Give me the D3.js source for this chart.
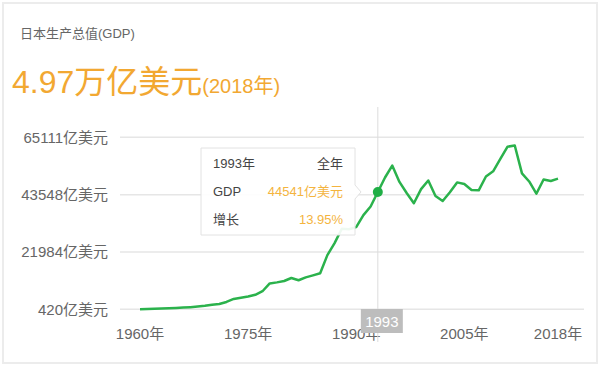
<!DOCTYPE html>
<html>
<head>
<meta charset="utf-8">
<script src="https://cdn.jsdelivr.net/npm/d3@7"></script>
<style>
  body { margin: 0; background: #fff; }
  svg { font-family: "Liberation Sans", Arial, "Noto Sans CJK SC", sans-serif; }
</style>
</head>
<body>
<div id="chart"></div>
<script>
// Japan GDP, 亿美元
var years = d3.range(1960, 2019);
var gdp = [443, 535, 607, 695, 817, 909, 1056, 1237, 1466, 1722,
    2126, 2402, 3180, 4323, 4792, 5215, 5862, 7214, 10136, 10550,
    11054, 12189, 11340, 12433, 13184, 13989, 20789, 25328, 30717, 30549,
    31328, 35840, 39088, 44541, 49988, 54491, 48331, 44147, 40325, 45621,
    48875, 43039, 41151, 44457, 48151, 47554, 45304, 45153, 50379, 52314,
    57001, 61575, 62032, 51557, 48504, 43895, 49225, 48669, 49548];
var yTicks = [420, 21984, 43548, 65111];
var xTicks = [1960, 1975, 1990, 2005, 2018];
var focusYear = 1993;
var focusGrowth = "13.95%";

var width = 600, height = 367;
var svg = d3.select("#chart").append("svg")
    .attr("width", width)
    .attr("height", height);

// card border
svg.append("rect")
    .attr("x", 3).attr("y", 3)
    .attr("width", 594).attr("height", 360)
    .attr("fill", "#fff")
    .attr("stroke", "#ececec")
    .attr("stroke-width", 2);

// headline
svg.append("text")
    .attr("x", 20).attr("y", 38)
    .attr("font-size", 13)
    .attr("fill", "#666")
    .text("日本生产总值(GDP)");

var head = svg.append("text")
    .attr("x", 12).attr("y", 93)
    .attr("fill", "#f2a832");
head.append("tspan").attr("font-size", 32).text("4.97万亿美元");
head.append("tspan").attr("font-size", 20).text("(2018年)");

var x = d3.scaleLinear().domain([1960, 2018]).range([140, 558]);
var y = d3.scaleLinear().domain([420, 65111]).range([309.3, 137.3]);

// grid + y labels
var grid = svg.append("g");
grid.selectAll("line")
    .data(yTicks)
    .enter().append("line")
    .attr("x1", 120).attr("x2", 584)
    .attr("y1", function(d) { return y(d); })
    .attr("y2", function(d) { return y(d); })
    .attr("stroke", "#e6e6e6")
    .attr("stroke-width", 1.5);

grid.selectAll("text")
    .data(yTicks)
    .enter().append("text")
    .attr("x", 108)
    .attr("y", function(d) { return y(d); })
    .attr("dy", "0.35em")
    .attr("text-anchor", "end")
    .attr("font-size", 15)
    .attr("fill", "#666")
    .text(function(d) { return d + "亿美元"; });

// x labels
svg.append("g").selectAll("text")
    .data(xTicks)
    .enter().append("text")
    .attr("x", function(d) { return x(d); })
    .attr("y", 339)
    .attr("text-anchor", "middle")
    .attr("font-size", 15)
    .attr("fill", "#666")
    .text(function(d) { return d + "年"; });

// crosshair
var fx = x(focusYear);
svg.append("line")
    .attr("x1", fx).attr("x2", fx)
    .attr("y1", 107).attr("y2", 342)
    .attr("stroke", "#ddd")
    .attr("stroke-width", 1);

// line
var line = d3.line()
    .x(function(d, i) { return x(years[i]); })
    .y(function(d) { return y(d); });

svg.append("path")
    .datum(gdp)
    .attr("fill", "none")
    .attr("stroke", "#2bb24c")
    .attr("stroke-width", 2.5)
    .attr("stroke-linejoin", "round")
    .attr("d", line);

var fv = gdp[years.indexOf(focusYear)];
svg.append("circle")
    .attr("cx", fx).attr("cy", y(fv))
    .attr("r", 5)
    .attr("fill", "#1fae45");

// year badge on axis
svg.append("rect")
    .attr("x", fx - 17).attr("y", 309)
    .attr("width", 42).attr("height", 24)
    .attr("fill", "#bdbdbd");
svg.append("text")
    .attr("x", fx + 4).attr("y", 327)
    .attr("text-anchor", "middle")
    .attr("font-size", 15)
    .attr("fill", "#fff")
    .text(focusYear);

// tooltip
var tip = svg.append("g");
var tx = 201, ty = 148, tw = 154, th = 87;
tip.append("path")
    .attr("d", "M" + tx + "," + ty + "h" + tw + "v" + (y(fv) - ty - 7) +
        "l6,7l-6,7V" + (ty + th) + "H" + tx + "Z")
    .attr("fill", "rgba(255,255,255,0.92)")
    .attr("stroke", "#e2e2e2")
    .attr("stroke-width", 1);

var rows = [
    [focusYear + "年", "全年", "#444"],
    ["GDP", fv + "亿美元", "#f4b43e"],
    ["增长", focusGrowth, "#f4b43e"]
];
var rowY = [168, 196, 224];
rows.forEach(function(r, i) {
    tip.append("text")
        .attr("x", 213).attr("y", rowY[i])
        .attr("font-size", 13)
        .attr("fill", "#444")
        .text(r[0]);
    tip.append("text")
        .attr("x", 343).attr("y", rowY[i])
        .attr("text-anchor", "end")
        .attr("font-size", 13)
        .attr("fill", r[2])
        .text(r[1]);
});
</script>
</body>
</html>
